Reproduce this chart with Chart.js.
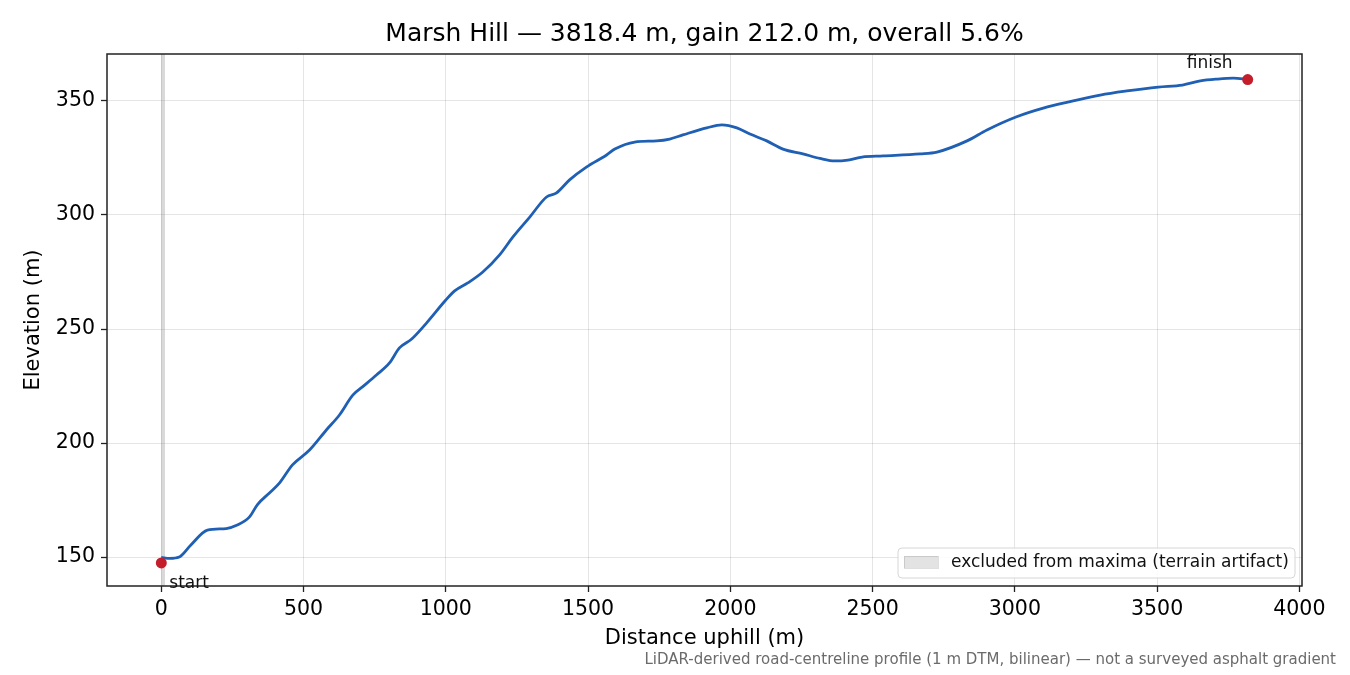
<!DOCTYPE html>
<html>
<head>
<meta charset="utf-8">
<script src="https://cdn.jsdelivr.net/npm/chart.js@4.4.1/dist/chart.umd.min.js"></script>
<style>
  html, body { margin: 0; padding: 0; background: #ffffff; }
  #wrap { width: 1350px; height: 675px; }
</style>
</head>
<body>
<div id="wrap"><canvas id="c" width="1350" height="675"></canvas></div>
<script>
// ---- data ----
const titleText = "Marsh Hill — 3818.4 m, gain 212.0 m, overall 5.6%";
const xAxisTitle = "Distance uphill (m)";
const yAxisTitle = "Elevation (m)";
const footnoteText = "LiDAR-derived road-centreline profile (1 m DTM, bilinear) — not a surveyed asphalt gradient";
const legendText = "excluded from maxima (terrain artifact)";

const distances = [0, 30, 63, 104, 162, 228, 267, 310, 338, 380, 415, 461, 521, 580, 626, 673, 707, 756, 802, 837, 880, 932,
  1000, 1031, 1077, 1130, 1189, 1236, 1295, 1354, 1388, 1435, 1494, 1565, 1594, 1664, 1741, 1787, 1833, 1917, 1970,
  2023, 2069, 2128, 2185, 2255, 2315, 2368, 2413, 2463, 2537, 2667, 2726, 2832, 2902, 3004, 3100, 3205, 3300, 3394,
  3504, 3589, 3652, 3711, 3768, 3818.4];
const elevations = [149.8, 149.4, 150.0, 155.3, 161.8, 162.5, 164.0, 167.6, 173.0, 178.1, 182.4, 190.4, 196.9, 205.7, 212.3, 221.0, 224.6, 229.8, 235.1, 241.7, 245.6, 252.6,
  262.7, 266.7, 270.2, 275.0, 282.5, 290.4, 299.1, 307.9, 309.6, 315.4, 321.0, 326.3, 328.9, 332.0, 332.5, 333.3, 335.1, 338.2, 339.5,
  338.2, 335.5, 332.5, 328.9, 326.8, 324.8, 323.7, 324.1, 325.4, 325.9, 326.8, 327.6, 332.5, 337.3, 343.0, 346.9, 350.0, 352.6, 354.4,
  356.1, 357.0, 358.8, 359.6, 360.0, 359.4];

const markerLabels = ["start", "finish"];
const markerDistances = [0, 3818.4];
const markerElevations = [147.4, 359.4];

const excludedBand = [-1, 13];

const xTickValues = [0, 500, 1000, 1500, 2000, 2500, 3000, 3500, 4000];
const yTickValues = [150, 200, 250, 300, 350];
const xRange = [-190.9, 4009.3];
const yRange = [137.3, 370.6];

// ---- styling ----
const FONT = "'DejaVu Sans', 'Liberation Sans', sans-serif";
const lineColor = '#1f5fb4';
const markerColor = '#c41e2b';
const bandColor = 'rgba(128,128,128,0.30)';
const TICK_SIZE = 20.5;
const LABEL_SIZE = 21;

const profile = distances.map((d, i) => ({ x: d, y: elevations[i] }));
const markers = markerDistances.map((d, i) => ({ x: d, y: markerElevations[i] }));
const band = [{ x: excludedBand[0], y: yRange[1] }, { x: excludedBand[1], y: yRange[1] }];

const extrasPlugin = {
  id: 'extras',
  afterDraw(chart) {
    const ctx = chart.ctx;
    const a = chart.chartArea;
    const xs = chart.scales.x, ys = chart.scales.y;
    ctx.save();
    // frame
    ctx.strokeStyle = '#222';
    ctx.lineWidth = 1.5;
    ctx.strokeRect(a.left, a.top, a.right - a.left, a.bottom - a.top);

    // title
    ctx.fillStyle = '#000';
    ctx.font = '25px ' + FONT;
    ctx.textAlign = 'center';
    ctx.textBaseline = 'middle';
    ctx.fillText(titleText, (a.left + a.right) / 2, 34);

    // axis titles
    ctx.font = LABEL_SIZE + 'px ' + FONT;
    ctx.fillText(xAxisTitle, (a.left + a.right) / 2, 639);
    ctx.save();
    ctx.translate(34, (a.top + a.bottom) / 2);
    ctx.rotate(-Math.PI / 2);
    ctx.fillText(yAxisTitle, 0, 0);
    ctx.restore();

    // footnote
    ctx.font = '15px ' + FONT;
    ctx.fillStyle = '#6b6b6b';
    ctx.textAlign = 'right';
    ctx.fillText(footnoteText, 1336, 660);

    // marker annotations
    ctx.fillStyle = '#111';
    ctx.font = '17px ' + FONT;
    ctx.textBaseline = 'alphabetic';
    const sx = xs.getPixelForValue(markerDistances[0]);
    const sy = ys.getPixelForValue(markerElevations[0]);
    ctx.textAlign = 'left';
    ctx.fillText(markerLabels[0], sx + 8, sy + 25);
    const fx = xs.getPixelForValue(markerDistances[1]);
    const fy = ys.getPixelForValue(markerElevations[1]);
    ctx.textAlign = 'center';
    ctx.fillText(markerLabels[1], fx - 38, fy - 12);

    // legend
    const lx = 898, ly = 548, lw = 397, lh = 30, r = 4;
    ctx.beginPath();
    ctx.moveTo(lx + r, ly);
    ctx.arcTo(lx + lw, ly, lx + lw, ly + lh, r);
    ctx.arcTo(lx + lw, ly + lh, lx, ly + lh, r);
    ctx.arcTo(lx, ly + lh, lx, ly, r);
    ctx.arcTo(lx, ly, lx + lw, ly, r);
    ctx.closePath();
    ctx.fillStyle = 'rgba(255,255,255,0.85)';
    ctx.fill();
    ctx.strokeStyle = '#d6d6d6';
    ctx.lineWidth = 1;
    ctx.stroke();
    ctx.fillStyle = 'rgba(128,128,128,0.22)';
    ctx.fillRect(904, 556, 34, 12);
    ctx.strokeStyle = 'rgba(128,128,128,0.25)';
    ctx.strokeRect(904.5, 556.5, 34, 12);
    ctx.fillStyle = '#111';
    ctx.font = '17px ' + FONT;
    ctx.textAlign = 'left';
    ctx.textBaseline = 'middle';
    ctx.fillText(legendText, 951, 563);
    ctx.restore();
  }
};

new Chart(document.getElementById('c'), {
  type: 'line',
  data: {
    datasets: [
      {
        label: legendText,
        data: band,
        fill: 'start',
        backgroundColor: bandColor,
        borderWidth: 0,
        pointRadius: 0,
        order: 3
      },
      {
        label: 'profile',
        data: profile,
        borderColor: lineColor,
        borderWidth: 2.8,
        pointRadius: 0,
        fill: false,
        cubicInterpolationMode: 'monotone',
        order: 2
      },
      {
        label: 'markers',
        data: markers,
        showLine: false,
        pointRadius: 5.5,
        pointBackgroundColor: markerColor,
        pointBorderColor: markerColor,
        pointBorderWidth: 0,
        order: 1
      }
    ]
  },
  options: {
    responsive: false,
    animation: false,
    devicePixelRatio: 1,
    layout: { padding: { top: 54, right: 48, left: 0, bottom: 0 } },
    plugins: {
      legend: { display: false },
      title: { display: false },
      tooltip: { enabled: false }
    },
    scales: {
      x: {
        type: 'linear',
        min: xRange[0],
        max: xRange[1],
        afterBuildTicks: (s) => { s.ticks = xTickValues.map(v => ({ value: v })); },
        afterFit: (s) => { s.height = 89; },
        ticks: {
          color: '#000',
          font: { family: FONT, size: TICK_SIZE },
          padding: 5,
          maxRotation: 0,
          autoSkip: false,
          callback: (v) => String(v)
        },
        grid: {
          color: 'rgba(0,0,0,0.10)',
          lineWidth: 1,
          tickColor: '#222',
          tickLength: 6,
          tickWidth: 1.3
        },
        border: { display: false }
      },
      y: {
        type: 'linear',
        min: yRange[0],
        max: yRange[1],
        afterBuildTicks: (s) => { s.ticks = yTickValues.map(v => ({ value: v })); },
        afterFit: (s) => { s.width = 107; },
        ticks: {
          color: '#000',
          font: { family: FONT, size: TICK_SIZE },
          padding: 6,
          autoSkip: false,
          callback: (v) => String(v)
        },
        grid: {
          color: 'rgba(0,0,0,0.10)',
          lineWidth: 1,
          tickColor: '#222',
          tickLength: 6,
          tickWidth: 1.3
        },
        border: { display: false }
      }
    }
  },
  plugins: [extrasPlugin]
});
</script>
</body>
</html>
